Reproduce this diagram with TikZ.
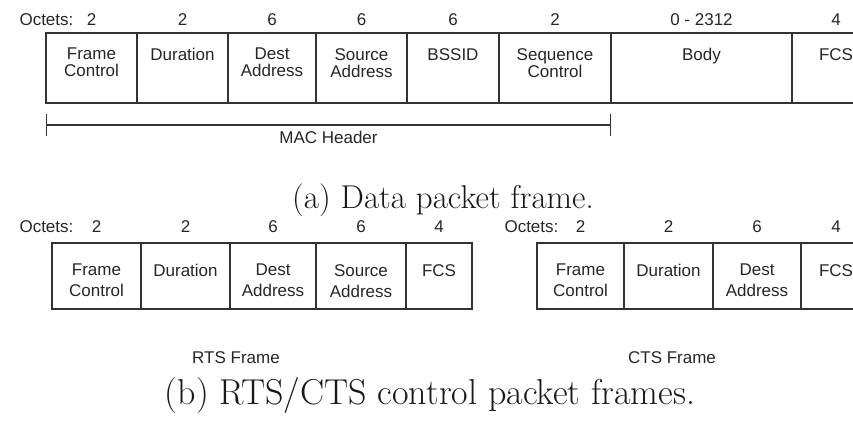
\documentclass[tikz,border=0pt]{standalone}
\usepackage{fontspec}
\newfontfamily\fieldfont{Liberation Sans}
\usetikzlibrary{arrows.meta,positioning}
\tikzset{
    frame line/.style={black!80,line width=1.3pt},
    field/.style={frame line,draw,rectangle,inner sep=0pt,outer sep=0pt,anchor=north west,minimum width=#1},
    data field/.style={field=#1,minimum height=70pt},
    ctrl field/.style={field=#1,minimum height=66pt},
    field text/.style={font=\fieldfont\fontsize{17}{17}\selectfont,align=center,inner sep=0pt,text=black!85},
    ctrl text/.style={field text,font=\fieldfont\fontsize{17}{21}\selectfont},
    octet/.style={font=\fieldfont\fontsize{17}{17}\selectfont,inner sep=0pt,text height=12pt,text depth=0pt,text=black!85},
    span bar/.style={frame line,{Bar[width=22pt]}-{Bar[width=22pt]}},
    subcaption/.style={font=\fontsize{33}{36}\selectfont,inner sep=0pt,text=black!90},
}

\begin{document}
\begin{tikzpicture}[x=1pt,y=-1pt]
    \useasboundingbox (0,0) rectangle (853,423);

    % data frame
    \node[data field=91pt]  (dfc)   at (46,33) {};
    \node[data field=91pt]  (ddur)  at (dfc.north east) {};
    \node[data field=88pt]  (ddst)  at (ddur.north east) {};
    \node[data field=91pt]  (dsrc)  at (ddst.north east) {};
    \node[data field=92pt]  (dbss)  at (dsrc.north east) {};
    \node[data field=112pt] (dseq)  at (dbss.north east) {};
    \node[data field=181pt] (dbody) at (dseq.north east) {};
    \node[data field=88pt]  (dfcs)  at (dbody.north east) {};

    \foreach \f/\t in {dfc/{Frame\\Control},ddur/Duration,ddst/{Dest\\Address},dsrc/{Source\\Address},
                       dbss/BSSID,dseq/{Sequence\\Control},dbody/Body,dfcs/FCS}
        \node[field text,below=15pt of \f.north] (\f txt) {\t};

    \foreach \f/\n in {dfc/2,ddur/2,ddst/6,dsrc/6,dbss/6,dseq/2,dbody/0 - 2312,dfcs/4}
        \node[octet,above=7pt of \f.north] (\f oct) {\n};
    \node[octet,left=13pt of dfcoct] (doctets) {Octets:};

    \coordinate[below=22pt of dfc.south west] (machl);
    \coordinate[below=22pt of dseq.south east] (machr);
    \draw[span bar] (machl) -- (machr)
        node[midway,below=6pt,octet] (machdr) {MAC Header};

    \node[subcaption] (capa) at (443,200) {(a) Data packet frame.};

    % RTS frame
    \node[ctrl field=89pt] (rfc)  at (52,243) {};
    \node[ctrl field=89pt] (rdur) at (rfc.north east) {};
    \node[ctrl field=86pt] (rdst) at (rdur.north east) {};
    \node[ctrl field=90pt] (rsrc) at (rdst.north east) {};
    \node[ctrl field=66pt] (rfcs) at (rsrc.north east) {};

    % CTS frame
    \node[ctrl field=87pt] (cfc)  at (537,243) {};
    \node[ctrl field=89pt] (cdur) at (cfc.north east) {};
    \node[ctrl field=88pt] (cdst) at (cdur.north east) {};
    \node[ctrl field=70pt] (cfcs) at (cdst.north east) {};

    \foreach \f/\t in {rfc/{Frame\\Control},rdur/Duration,rdst/{Dest\\Address},rsrc/{Source\\Address},rfcs/FCS,
                       cfc/{Frame\\Control},cdur/Duration,cdst/{Dest\\Address},cfcs/FCS}
        \node[ctrl text,below=21pt of \f.north] (\f txt) {\t};

    \foreach \f/\n in {rfc/2,rdur/2,rdst/6,rsrc/6,rfcs/4,cfc/2,cdur/2,cdst/6,cfcs/4}
        \node[octet,above=10pt of \f.north] (\f oct) {\n};
    \node[octet,left=18pt of rfcoct] (roctets) {Octets:};
    \node[octet,left=17pt of cfcoct] (coctets) {Octets:};

    \node[octet] (rtsname) at (236,357) {RTS Frame};
    \node[octet] (ctsname) at (672,357) {CTS Frame};

    \node[subcaption,font=\fontsize{36}{40}\selectfont] (capb) at (430,396) {(b) RTS/CTS control packet frames.};
\end{tikzpicture}
\end{document}
